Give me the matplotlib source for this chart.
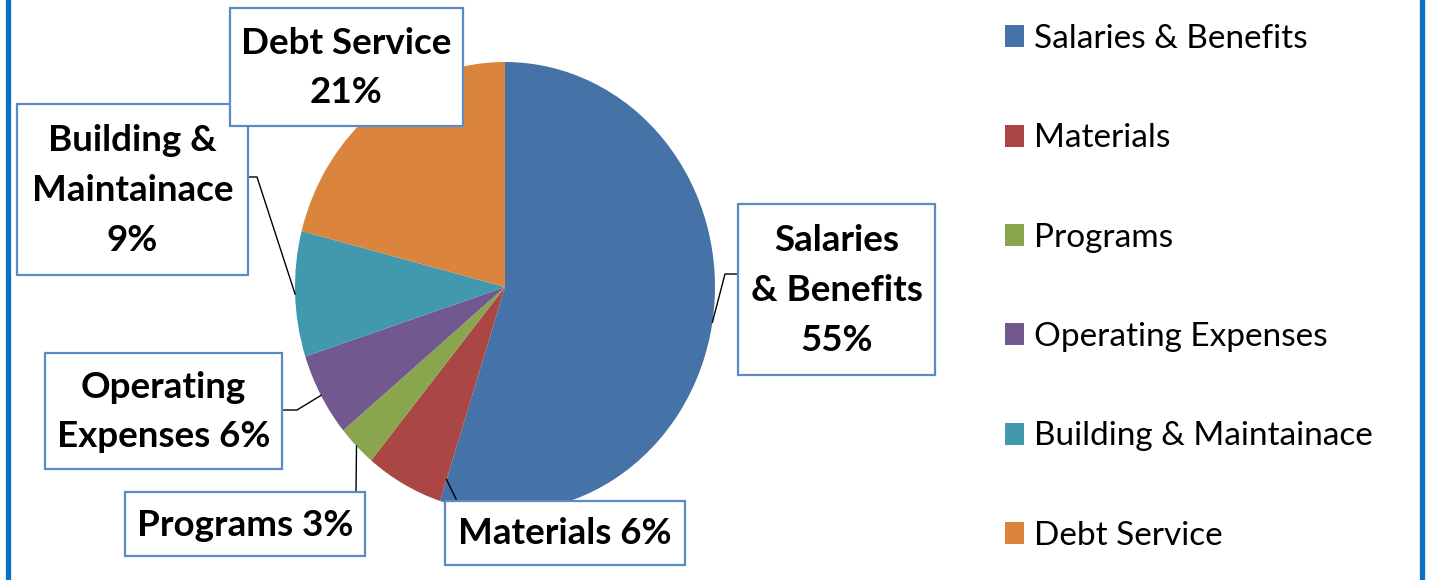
import matplotlib
matplotlib.use("Agg")
import matplotlib.pyplot as plt
from matplotlib.patches import Rectangle
from matplotlib.lines import Line2D
import numpy as np

# ---------------- data ----------------
categories = ["Salaries & Benefits", "Materials", "Programs",
              "Operating Expenses", "Building & Maintainace", "Debt Service"]
values = [55, 6, 3, 6, 9, 21]
colors = ['#4572A7', '#AA4643', '#89A54E', '#71588F', '#4198AF', '#DB843D']
label_texts = ["Salaries\n& Benefits\n55%", "Materials 6%", "Programs 3%",
               "Operating\nExpenses 6%", "Building &\nMaintainace\n9%",
               "Debt Service\n21%"]

plt.rcParams['font.family'] = ['Lato', 'DejaVu Sans']

W, H = 1429, 580
fig = plt.figure(figsize=(W / 100, H / 100), dpi=100)
ax = fig.add_axes([0, 0, 1, 1])

# pie geometry (pixels, origin top-left)
cx, cy = 505, 287
rx, ry = 210, 225

wedges, _ = ax.pie(values, colors=colors, startangle=90, counterclock=False,
                   wedgeprops=dict(linewidth=0))
ax.set_aspect('auto')
ax.set_xlim(-cx / rx, (W - cx) / rx)
ax.set_ylim(-(H - cy) / ry, cy / ry)
ax.axis('off')


def d(px, py):
    return ((px - cx) / rx, (cy - py) / ry)


# wedge angles
fr = np.array(values, dtype=float) / np.sum(values)
cum = np.concatenate([[0], np.cumsum(fr)])
ang_start = 90 - 360 * cum[:-1]
ang_end = 90 - 360 * cum[1:]
ang_mid = (ang_start + ang_end) / 2


def on_pie(angle, r=1.0):
    a = np.deg2rad(angle)
    return (r * np.cos(a), r * np.sin(a))


# label boxes (layout, pixels: x0, y0, x1, y1)
boxes = [(738, 204, 935, 375), (445, 501, 685, 565), (125, 492, 365, 556),
         (45, 353, 282, 469), (17, 104, 248, 275), (230, 8, 463, 126)]

# leader line anchors on pie + elbows (layout)
anchors = [on_pie(ang_mid[0]), on_pie(ang_end[0], 0.9), on_pie(ang_mid[2]),
           on_pie(ang_mid[3]), on_pie(ang_mid[4]), None]
elbows = [[(725, 274), (738, 274)], [(457, 501)], [(356, 492)],
          [(297, 410), (282, 410)], [(257, 177), (248, 177)], None]

for anc, elb in zip(anchors, elbows):
    if anc is None:
        continue
    pts = [anc] + [d(*p) for p in elb]
    xs, ys = zip(*pts)
    ax.plot(xs, ys, color='black', lw=1.0, zorder=3)

box_color = '#5B8BC7'
for (x0, y0, x1, y1), txt in zip(boxes, label_texts):
    bx, by = d(x0, y1)
    bw = (x1 - x0) / rx
    bh = (y1 - y0) / ry
    ax.add_patch(Rectangle((bx, by), bw, bh, facecolor='white',
                           edgecolor=box_color, lw=1.6, zorder=4))
    tx, ty = d((x0 + x1) / 2, (y0 + y1) / 2 + 1)
    ax.text(tx, ty, txt, ha='center', va='center', fontsize=26.5,
            fontweight='bold', linespacing=1.62, zorder=5, color='black')

# legend
leg = fig.legend(wedges, categories, loc='upper left',
                 bbox_to_anchor=(1005 / W, 1 - 24 / H), frameon=False,
                 fontsize=24, handlelength=0.57, handleheight=0.63,
                 handletextpad=0.3, labelspacing=2.08, borderpad=0,
                 borderaxespad=0)

# figure border lines (left & right)
for xpx in (7.5, 1421.5):
    fig.add_artist(Line2D([xpx / W, xpx / W], [0, 1], transform=fig.transFigure,
                          color='#0B6FC4', lw=3.8))

fig.savefig("out.png", dpi=100)
